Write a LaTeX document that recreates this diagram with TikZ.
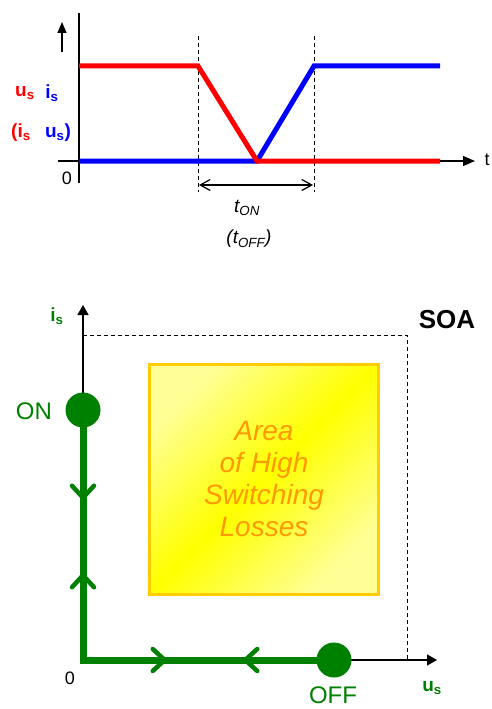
\documentclass[tikz,border=0pt]{standalone}
\usepackage{fontspec}
\setmainfont{Liberation Sans}
\usetikzlibrary{arrows.meta,decorations.markings,positioning}

\definecolor{sgreen}{RGB}{0,128,0}
\definecolor{lossorange}{RGB}{255,153,0}
\definecolor{boxedge}{RGB}{255,204,0}
\definecolor{paleyellow}{RGB}{255,255,150}

\tikzset{
  sig/.style={line width=5pt},
  axis/.style={line width=1.3pt},
  guide/.style={line width=0.9pt, dash pattern=on 4pt off 3pt},
  lbl/.style={font=\fontsize{19}{22}\selectfont\bfseries},
  barb/.tip={Straight Barb[length=12pt,width=22pt,line width=4.5pt,round]},
  trajectory/.style={sgreen, line width=7pt, line join=miter,
    decoration={markings,
      mark=at position 90pt with {\arrow{barb}},
      mark=at position 163pt with {\arrowreversed{barb}},
      mark=at position 334pt with {\arrow{barb}},
      mark=at position 410pt with {\arrowreversed{barb}}},
    postaction={decorate}}
}

\begin{document}
\begin{tikzpicture}[x=1pt,y=-1pt, font=\fontsize{18}{21}\selectfont]
 \useasboundingbox (0,0) rectangle (491,709);

 % switching waveforms
 \draw[axis] (79,13) -- (79,183);
 \draw[axis, -{Triangle[length=12pt,width=10pt]}] (58,161) -- (475,161);
 \draw[axis, -{Triangle[length=11pt,width=9pt]}] (62,52) -- (62,22);
 \draw[guide] (198,36) -- (198,192);
 \draw[guide] (314,36) -- (314,192);
 \draw[line width=1.2pt, {Straight Barb[length=10pt,width=11pt]}-{Straight Barb[length=10pt,width=11pt]}] (199,185) -- (313,185);

 \draw[sig, blue] (79,161) -- (257,161) -- (314,66) -- (440,66);
 \draw[sig, red] (79,66) -- (198,66) -- (257,161) -- (440,161);

 \node[lbl, red] (us1) at (25,93) {u\textsubscript{s}};
 \node[lbl, blue] (is1) at (52,93) {i\textsubscript{s}};
 \node[lbl, red] (is2) at (21,133) {(i\textsubscript{s}};
 \node[lbl, blue] (us2) at (58,133) {u\textsubscript{s})};
 \node (zero1) at (67,178) {0};
 \node (t) at (487,160) {t};
 \node[font=\fontsize{19}{22}\selectfont\itshape] (ton) at (247,208) {t\textsubscript{ON}};
 \node[font=\fontsize{19}{22}\selectfont\itshape] (toff) at (249,239) {(t\textsubscript{OFF})};

 % safe operating area
 \draw[axis, line width=1.5pt, -{Triangle[length=10pt,width=11pt]}] (83,660) -- (83,305);
 \draw[axis, line width=1.5pt, -{Triangle[length=10pt,width=11pt]}] (83,660) -- (437,660);
 \draw[guide] (83,335) -- (407,335) -- (407,660);

 \shade[left color=paleyellow, right color=paleyellow, middle color=yellow, shading angle=45]
   (149,364) rectangle (378,594);
 \draw[boxedge, line width=3pt] (149,364) rectangle (378,594);
 \node[lossorange, align=center, font=\fontsize{28}{32}\selectfont\itshape] (loss) at (264,479)
   {Area\\of High\\Switching\\Losses};

 \coordinate (on) at (83,410);
 \coordinate (corner) at (83,660);
 \coordinate (off) at (334,660);
 \draw[trajectory] (on) -- (corner) -- (off);
 \fill[sgreen] (on) circle (17.5);
 \fill[sgreen] (off) circle (17.5);

 \node[sgreen, font=\fontsize{24}{28}\selectfont] (onlbl) at (34,411) {ON};
 \node[sgreen, font=\fontsize{24}{28}\selectfont] (offlbl) at (333,695) {OFF};
 \node[lbl, sgreen] (is3) at (57,316) {i\textsubscript{s}};
 \node[lbl, sgreen] (us3) at (432,688) {u\textsubscript{s}};
 \node (zero2) at (70,678) {0};
 \node[font=\fontsize{26}{30}\selectfont\bfseries] (soa) at (447,320) {SOA};
\end{tikzpicture}
\end{document}
